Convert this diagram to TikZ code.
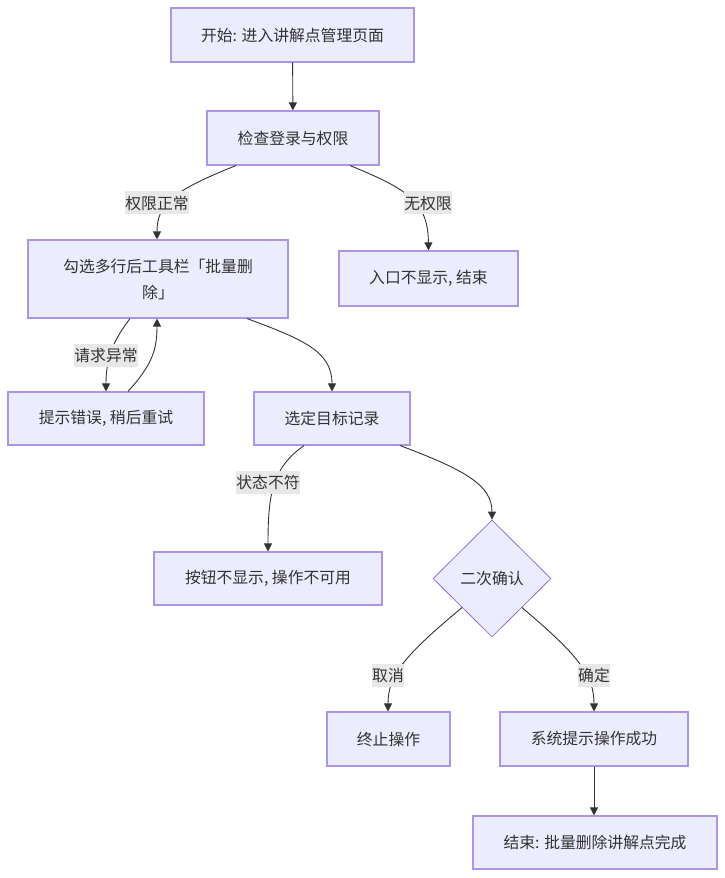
\documentclass[tikz,border=0pt]{standalone}
\usepackage{fontspec}
\setmainfont{Noto Sans CJK SC}
\usetikzlibrary{shapes.geometric,arrows.meta,calc}
\definecolor{nodefill}{HTML}{ECECFF}
\definecolor{nodeline}{HTML}{9370DB}
\definecolor{txt}{HTML}{333333}
\definecolor{edge}{HTML}{333333}
\definecolor{lblbg}{HTML}{E8E8E8}
\tikzset{
  box/.style={draw=nodeline!75, fill=nodefill, line width=1.1pt, text=txt, inner sep=0pt, align=center, font=\fontsize{15.8}{26}\selectfont},
  choice/.style={shape=diamond, draw=nodeline, fill=nodefill, line width=0.8pt, text=txt, inner sep=0pt, minimum width=118pt, minimum height=117pt, font=\fontsize{15.8}{20}\selectfont},
  lbl/.style={fill=lblbg, text=txt, inner sep=0pt, minimum height=23pt, text depth=0pt, font=\fontsize{15.8}{20}\selectfont},
  conn/.style={draw=edge, line width=0.9pt, -{Triangle[length=8pt,width=8pt]}},
}
\begin{document}
\begin{tikzpicture}[x=1pt,y=-1pt]
\useasboundingbox (0,0) rectangle (725,878);
\node[box, minimum width=243pt, minimum height=54pt] (start) at (292.5,35) {开始: 进入讲解点管理页面};
\node[box, minimum width=172pt, minimum height=54pt] (chk) at (293,138) {检查登录与权限};
\node[box, minimum width=260pt, minimum height=78pt] (sel) at (158,279) {勾选多行后工具栏「批量删\\除」};
\node[box, minimum width=179pt, minimum height=55pt] (noent) at (428.5,278.5) {入口不显示, 结束};
\node[box, minimum width=196pt, minimum height=53pt] (err) at (106,418.5) {提示错误, 稍后重试};
\node[box, minimum width=156pt, minimum height=53pt] (tgt) at (332,418.5) {选定目标记录};
\node[box, minimum width=228pt, minimum height=53pt] (btn) at (268,578.5) {按钮不显示, 操作不可用};
\node[choice] (dia) at (492,578.5) {二次确认};
\node[box, minimum width=123pt, minimum height=54pt] (stop) at (388.5,739) {终止操作};
\node[box, minimum width=188pt, minimum height=54pt] (ok) at (594,739) {系统提示操作成功};
\node[box, minimum width=244pt, minimum height=53pt] (fin) at (595,842.5) {结束: 批量删除讲解点完成};

\coordinate (dl) at ($(dia.west)+(29.5,29)$);
\coordinate (dr) at ($(dia.east)+(-29.5,29)$);

\draw[conn] (start) -- (chk);
\draw[conn] ([xshift=-57pt]chk.south) .. controls (175,190) and (157,203) .. ([xshift=-1pt]sel.north);
\draw[conn] ([xshift=57pt]chk.south) .. controls (410,190) and (428,203) .. (noent.north);
\draw[conn] ([xshift=-28pt]sel.south) .. controls (112,342) and (106,360) .. (err.north);
\draw[conn] ([xshift=22pt]err.north) .. controls (152,365) and (157,350) .. ([xshift=-1pt]sel.south);
\draw[conn] ([xshift=89pt]sel.south) .. controls (305,340) and (332,352) .. (tgt.north);
\draw[conn] ([xshift=-28pt]tgt.south) .. controls (272,468) and (268,495) .. (btn.north);
\draw[conn] ([xshift=68pt]tgt.south) .. controls (465,470) and (492,485) .. (dia.north);
\draw[conn] (dl) .. controls (405,655) and (388,675) .. ([xshift=-0.5pt]stop.north);
\draw[conn] (dr) .. controls (578,655) and (594,675) .. (ok.north);
\draw[conn] (ok) -- ([xshift=-1pt]fin.north);

\node[lbl] (l1) at (157,202.5) {权限正常};
\node[lbl] (l2) at (428,202.5) {无权限};
\node[lbl] (l3) at (106,355) {请求异常};
\node[lbl] (l4) at (268,482) {状态不符};
\node[lbl] (l5) at (388,675) {取消};
\node[lbl] (l6) at (594,675) {确定};
\end{tikzpicture}
\end{document}
